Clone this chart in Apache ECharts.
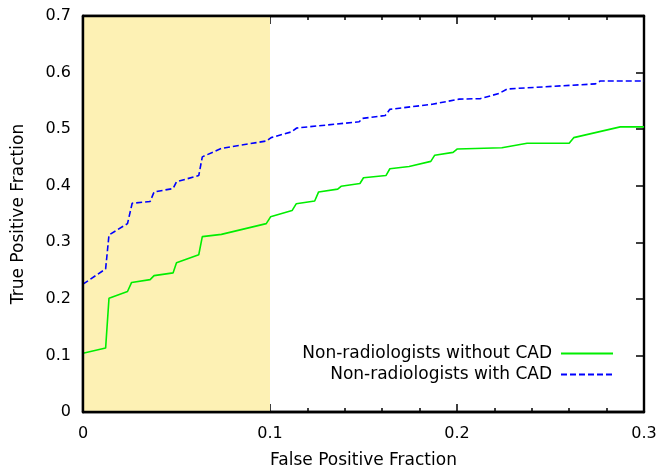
<!DOCTYPE html>
<html>
<head>
<meta charset="utf-8">
<script src="https://cdn.jsdelivr.net/npm/echarts@6/dist/echarts.min.js"></script>
<style>
html,body{margin:0;padding:0;background:#fff;}
#chart{width:659px;height:469px;}
</style>
</head>
<body>
<div id="chart"></div>
<script>
// Data
const seriesNames = ['Non-radiologists without CAD', 'Non-radiologists with CAD'];
const fpfWithout = [0, 0.0121, 0.0139, 0.0238, 0.026, 0.0359, 0.038, 0.0482, 0.050, 0.0619, 0.0638, 0.074, 0.098, 0.1003, 0.1118, 0.114, 0.1239, 0.126, 0.1362, 0.138, 0.1481, 0.150, 0.162, 0.1641, 0.1744, 0.186, 0.1881, 0.1979, 0.2002, 0.224, 0.2375, 0.260, 0.2624, 0.2873, 0.3];
const tpfWithout = [0.104, 0.113, 0.201, 0.213, 0.229, 0.234, 0.241, 0.246, 0.264, 0.278, 0.310, 0.314, 0.333, 0.345, 0.356, 0.368, 0.373, 0.389, 0.394, 0.399, 0.404, 0.414, 0.418, 0.430, 0.434, 0.443, 0.454, 0.459, 0.465, 0.467, 0.475, 0.475, 0.485, 0.504, 0.504];
const fpfWith = [0, 0.0121, 0.0139, 0.0238, 0.0263, 0.0359, 0.038, 0.0482, 0.050, 0.0619, 0.0638, 0.074, 0.098, 0.1006, 0.1113, 0.1143, 0.1477, 0.1495, 0.1616, 0.1641, 0.1868, 0.2011, 0.2126, 0.2224, 0.2268, 0.274, 0.2766, 0.3];
const tpfWith = [0.226, 0.253, 0.313, 0.333, 0.369, 0.372, 0.389, 0.395, 0.407, 0.418, 0.451, 0.466, 0.479, 0.485, 0.495, 0.502, 0.513, 0.519, 0.524, 0.535, 0.544, 0.553, 0.554, 0.563, 0.571, 0.580, 0.585, 0.585];
const highlightRange = [0, 0.1];
const xName = 'False Positive Fraction';
const yName = 'True Positive Fraction';

const zip = (a, b) => a.map((v, i) => [v, b[i]]);
const FONT = 'DejaVu Sans';
const FS = 17;
const TFS = 16;
const fmt = v => (Math.abs(v) < 1e-9 ? '0' : (Math.round(v * 10) / 10).toFixed(1));

const chart = echarts.init(document.getElementById('chart'));
const lineOnly = { show: true, onZero: false, lineStyle: { color: '#000', width: 2.4 } };
const hidden = { show: false };
const tick = { show: true, inside: true, length: 8, lineStyle: { color: '#000', width: 1.5 } };
const minor = { show: true, splitNumber: 5, length: 4, lineStyle: { color: '#000', width: 1.5 } };
chart.setOption({
  animation: false,
  backgroundColor: '#fff',
  textStyle: { fontFamily: FONT },
  grid: { left: 83, right: 15, top: 16, bottom: 57, containLabel: false, outerBoundsMode: 'none' },
  legend: {
    orient: 'vertical',
    right: 45, top: 345,
    padding: 0,
    align: 'right',
    itemWidth: 52, itemHeight: 14, itemGap: 4,
    itemStyle: { opacity: 0 },
    textStyle: { fontFamily: FONT, fontSize: FS, color: '#000', padding: [0, 4, 0, 0] },
    data: seriesNames
  },
  xAxis: [
    { type: 'value', position: 'bottom', min: 0, max: 0.3, interval: 0.1,
      name: xName, nameLocation: 'middle', nameGap: 40,
      nameTextStyle: { fontFamily: FONT, fontSize: FS, color: '#000' },
      axisLine: lineOnly, axisTick: tick, minorTick: minor,
      axisLabel: { formatter: fmt, fontFamily: FONT, fontSize: TFS, color: '#000', margin: 14 },
      splitLine: hidden, minorSplitLine: hidden },
    { type: 'value', position: 'top', min: 0, max: 0.3, interval: 0.1,
      axisLine: lineOnly, axisTick: tick, minorTick: minor,
      axisLabel: hidden, splitLine: hidden, minorSplitLine: hidden },
    { type: 'value', position: 'bottom', min: 0, max: 0.3, interval: 0.1, z: 10,
      axisLine: lineOnly, axisTick: hidden, axisLabel: hidden, splitLine: hidden },
    { type: 'value', position: 'top', min: 0, max: 0.3, interval: 0.1, z: 10,
      axisLine: lineOnly, axisTick: hidden, axisLabel: hidden, splitLine: hidden }
  ],
  yAxis: [
    { type: 'value', position: 'left', min: 0, max: 0.7, interval: 0.1,
      name: yName, nameLocation: 'middle', nameGap: 56, nameRotate: 90,
      nameTextStyle: { fontFamily: FONT, fontSize: FS, color: '#000' },
      axisLine: lineOnly, axisTick: tick,
      axisLabel: { formatter: fmt, fontFamily: FONT, fontSize: TFS, color: '#000', margin: 12 },
      splitLine: hidden },
    { type: 'value', position: 'right', min: 0, max: 0.7, interval: 0.1,
      axisLine: lineOnly, axisTick: tick,
      axisLabel: hidden, splitLine: hidden },
    { type: 'value', position: 'left', min: 0, max: 0.7, interval: 0.1, z: 10,
      axisLine: lineOnly, axisTick: hidden, axisLabel: hidden, splitLine: hidden }
  ],
  series: [
    { name: seriesNames[0], type: 'line', xAxisIndex: 0, yAxisIndex: 0,
      data: zip(fpfWithout, tpfWithout), showSymbol: false, symbol: 'none',
      lineStyle: { color: '#00ee00', width: 1.6 }, itemStyle: { color: '#00ee00' },
      z: 3,
      markArea: { silent: true, itemStyle: { color: '#fdf1b4' },
        data: [[{ xAxis: highlightRange[0] }, { xAxis: highlightRange[1] }]] } },
    { name: seriesNames[1], type: 'line', xAxisIndex: 0, yAxisIndex: 0,
      data: zip(fpfWith, tpfWith), showSymbol: false, symbol: 'none',
      lineStyle: { color: '#0000ff', width: 1.6, type: [6, 3] }, itemStyle: { color: '#0000ff' },
      z: 3 }
  ]
});
</script>
</body>
</html>
